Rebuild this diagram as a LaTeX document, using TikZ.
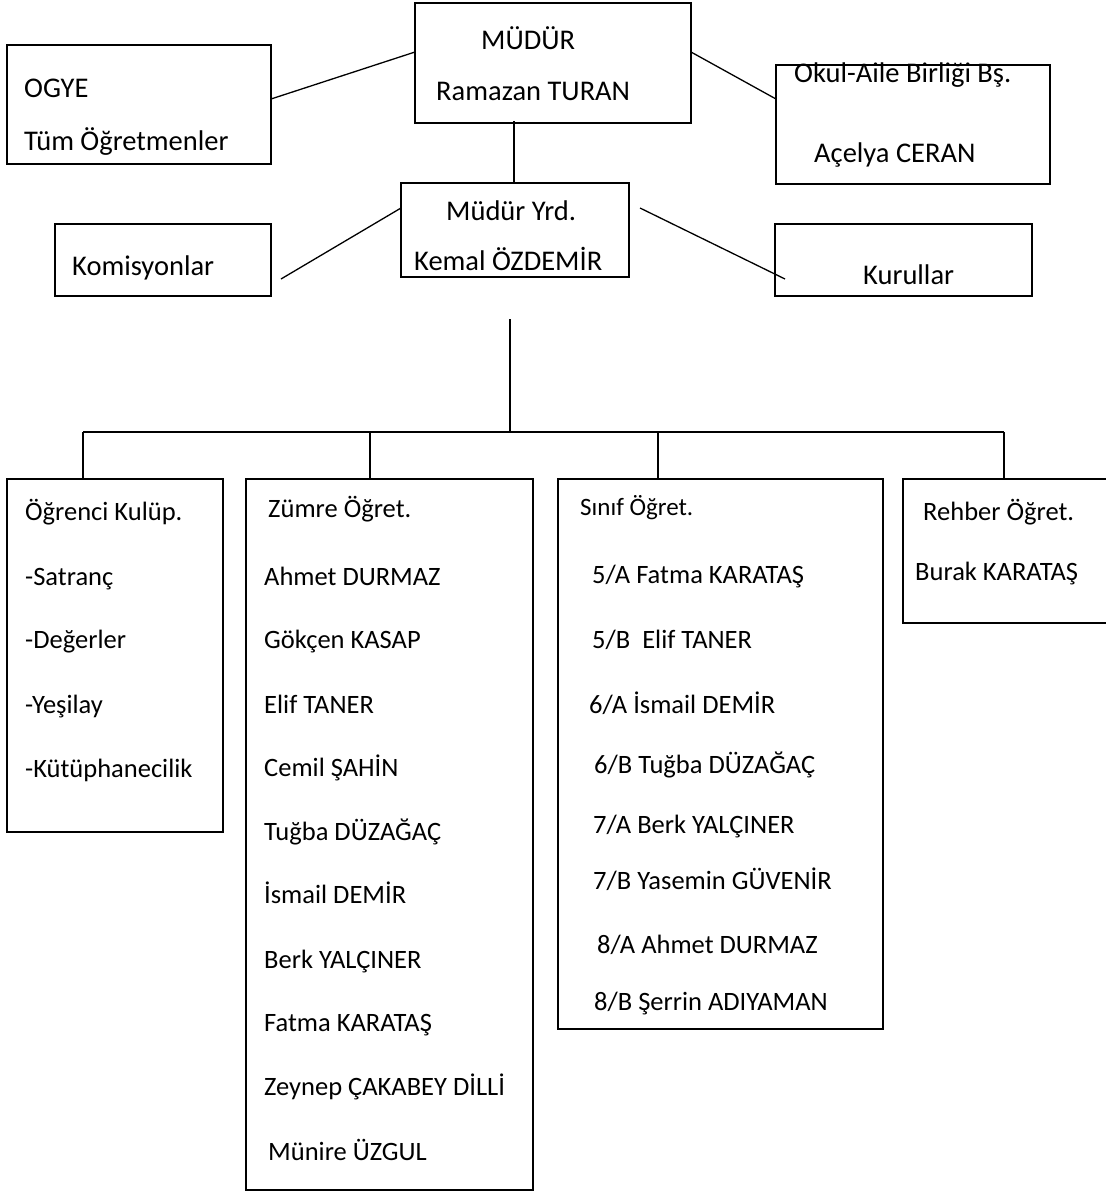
\documentclass[tikz,border=0pt]{standalone}
\usepackage{fontspec}
\setmainfont{Carlito}
\begin{document}
\begin{tikzpicture}[x=1pt,y=-1pt,
  box/.style={draw=black,line width=1.8pt,rectangle,anchor=north west,inner sep=0pt,outer sep=0pt},
  conn/.style={draw=black,line width=1.8pt},
  diag/.style={draw=black,line width=1.3pt},
  big/.style={anchor=base west,inner sep=0pt,font=\fontsize{28.5}{34}\selectfont},
  small/.style={anchor=base west,inner sep=0pt,font=\fontsize{26.5}{32}\selectfont},
  smaller/.style={anchor=base west,inner sep=0pt,font=\fontsize{25}{30}\selectfont}]
\useasboundingbox (0,0) rectangle (1106,1192);
\fill[white] (0,0) rectangle (1106,1192);

% boxes
\node[box,minimum width=264pt,minimum height=119pt] (ogye) at (7,45) {};
\node[box,minimum width=276pt,minimum height=120pt] (mudur) at (415,3) {};
\node[box,minimum width=274pt,minimum height=119pt] (okul) at (776,65) {};
\node[box,minimum width=228pt,minimum height=94pt] (yrd) at (401,183) {};
\node[box,minimum width=216pt,minimum height=72pt] (komis) at (55,224) {};
\node[box,minimum width=257pt,minimum height=72pt] (kurul) at (775,224) {};
\node[box,minimum width=216pt,minimum height=353pt] (kulup) at (7,479) {};
\node[box,minimum width=287pt,minimum height=711pt] (zumre) at (246,479) {};
\node[box,minimum width=325pt,minimum height=550pt] (sinif) at (558,479) {};
\node[box,minimum width=230pt,minimum height=144pt] (rehber) at (903,479) {};

% connector end points
\coordinate (c1a) at (271,99);  \coordinate (c1b) at (415,52);
\coordinate (c2a) at (691,52);  \coordinate (c2b) at (776,99);
\coordinate (c3a) at (514,121); \coordinate (c3b) at (514,183);
\coordinate (c4a) at (281,279); \coordinate (c4b) at (401,208);
\coordinate (c5a) at (640,208); \coordinate (c5b) at (785,279);
\coordinate (tr1) at (510,319); \coordinate (tr2) at (510,432);
\coordinate (b1) at (83,432);   \coordinate (b2) at (370,432);
\coordinate (b3) at (658,432);  \coordinate (b4) at (1004,432);
\coordinate (d1) at (83,479);   \coordinate (d2) at (370,479);
\coordinate (d3) at (658,479);  \coordinate (d4) at (1004,479);

\draw[diag] (c1a) -- (c1b);
\draw[diag] (c2a) -- (c2b);
\draw[conn] (c3a) -- (c3b);
\draw[diag] (c4a) -- (c4b);
\draw[diag] (c5a) -- (c5b);
\draw[conn] (tr1) -- (tr2);
\draw[conn] (b1) -- (b4);
\draw[conn] (b1) -- (d1);
\draw[conn] (b2) -- (d2);
\draw[conn] (b3) -- (d3);
\draw[conn] (b4) -- (d4);

% top texts
\node[big] (t1) at (24,97) {OGYE};
\node[big] (t2) at (24,150) {Tüm Öğretmenler};
\node[big] (t3) at (481,49) {MÜDÜR};
\node[big] (t4) at (436,100) {Ramazan TURAN};
\node[big] (t5) at (794,82) {Okul-Aile Birliği Bş.};
\node[big] (t6) at (814,162) {Açelya CERAN};
\node[big] (t7) at (446,220) {Müdür Yrd.};
\node[big] (t8) at (414,270) {Kemal ÖZDEMİR};
\node[big] (t9) at (72,275) {Komisyonlar};
\node[big] (t10) at (863,284) {Kurullar};

% kulup
\node[small] (k0) at (25,520) {Öğrenci Kulüp.};
\node[small] (k1) at (25,585) {-Satranç};
\node[small] (k2) at (25,648) {-Değerler};
\node[small] (k3) at (25,713) {-Yeşilay};
\node[small] (k4) at (25,777) {-Kütüphanecilik};

% zumre
\node[small] (z0) at (268,517) {Zümre Öğret.};
\node[small] (z1) at (264,585) {Ahmet DURMAZ};
\node[small] (z2) at (264,648) {Gökçen KASAP};
\node[small] (z3) at (264,713) {Elif TANER};
\node[small] (z4) at (264,776) {Cemil ŞAHİN};
\node[small] (z5) at (264,840) {Tuğba DÜZAĞAÇ};
\node[small] (z6) at (264,903) {İsmail DEMİR};
\node[small] (z7) at (264,968) {Berk YALÇINER};
\node[small] (z8) at (264,1031) {Fatma KARATAŞ};
\node[small] (z9) at (264,1095) {Zeynep ÇAKABEY DİLLİ};
\node[small] (z10) at (268,1160) {Münire ÜZGUL};

% sinif
\node[smaller] (s0) at (580,515) {Sınıf Öğret.};
\node[small] (s1) at (592,583) {5/A Fatma KARATAŞ};
\node[small] (s2) at (592,648) {5/B\ \ Elif TANER};
\node[small] (s3) at (589,713) {6/A İsmail DEMİR};
\node[small] (s4) at (594,773) {6/B Tuğba DÜZAĞAÇ};
\node[small] (s5) at (593,833) {7/A Berk YALÇINER};
\node[small] (s6) at (593,889) {7/B Yasemin GÜVENİR};
\node[small] (s7) at (597,953) {8/A Ahmet DURMAZ};
\node[small] (s8) at (594,1010) {8/B Şerrin ADIYAMAN};

% rehber
\node[small] (r0) at (923,520) {Rehber Öğret.};
\node[small] (r1) at (915,580) {Burak KARATAŞ};
\end{tikzpicture}
\end{document}
